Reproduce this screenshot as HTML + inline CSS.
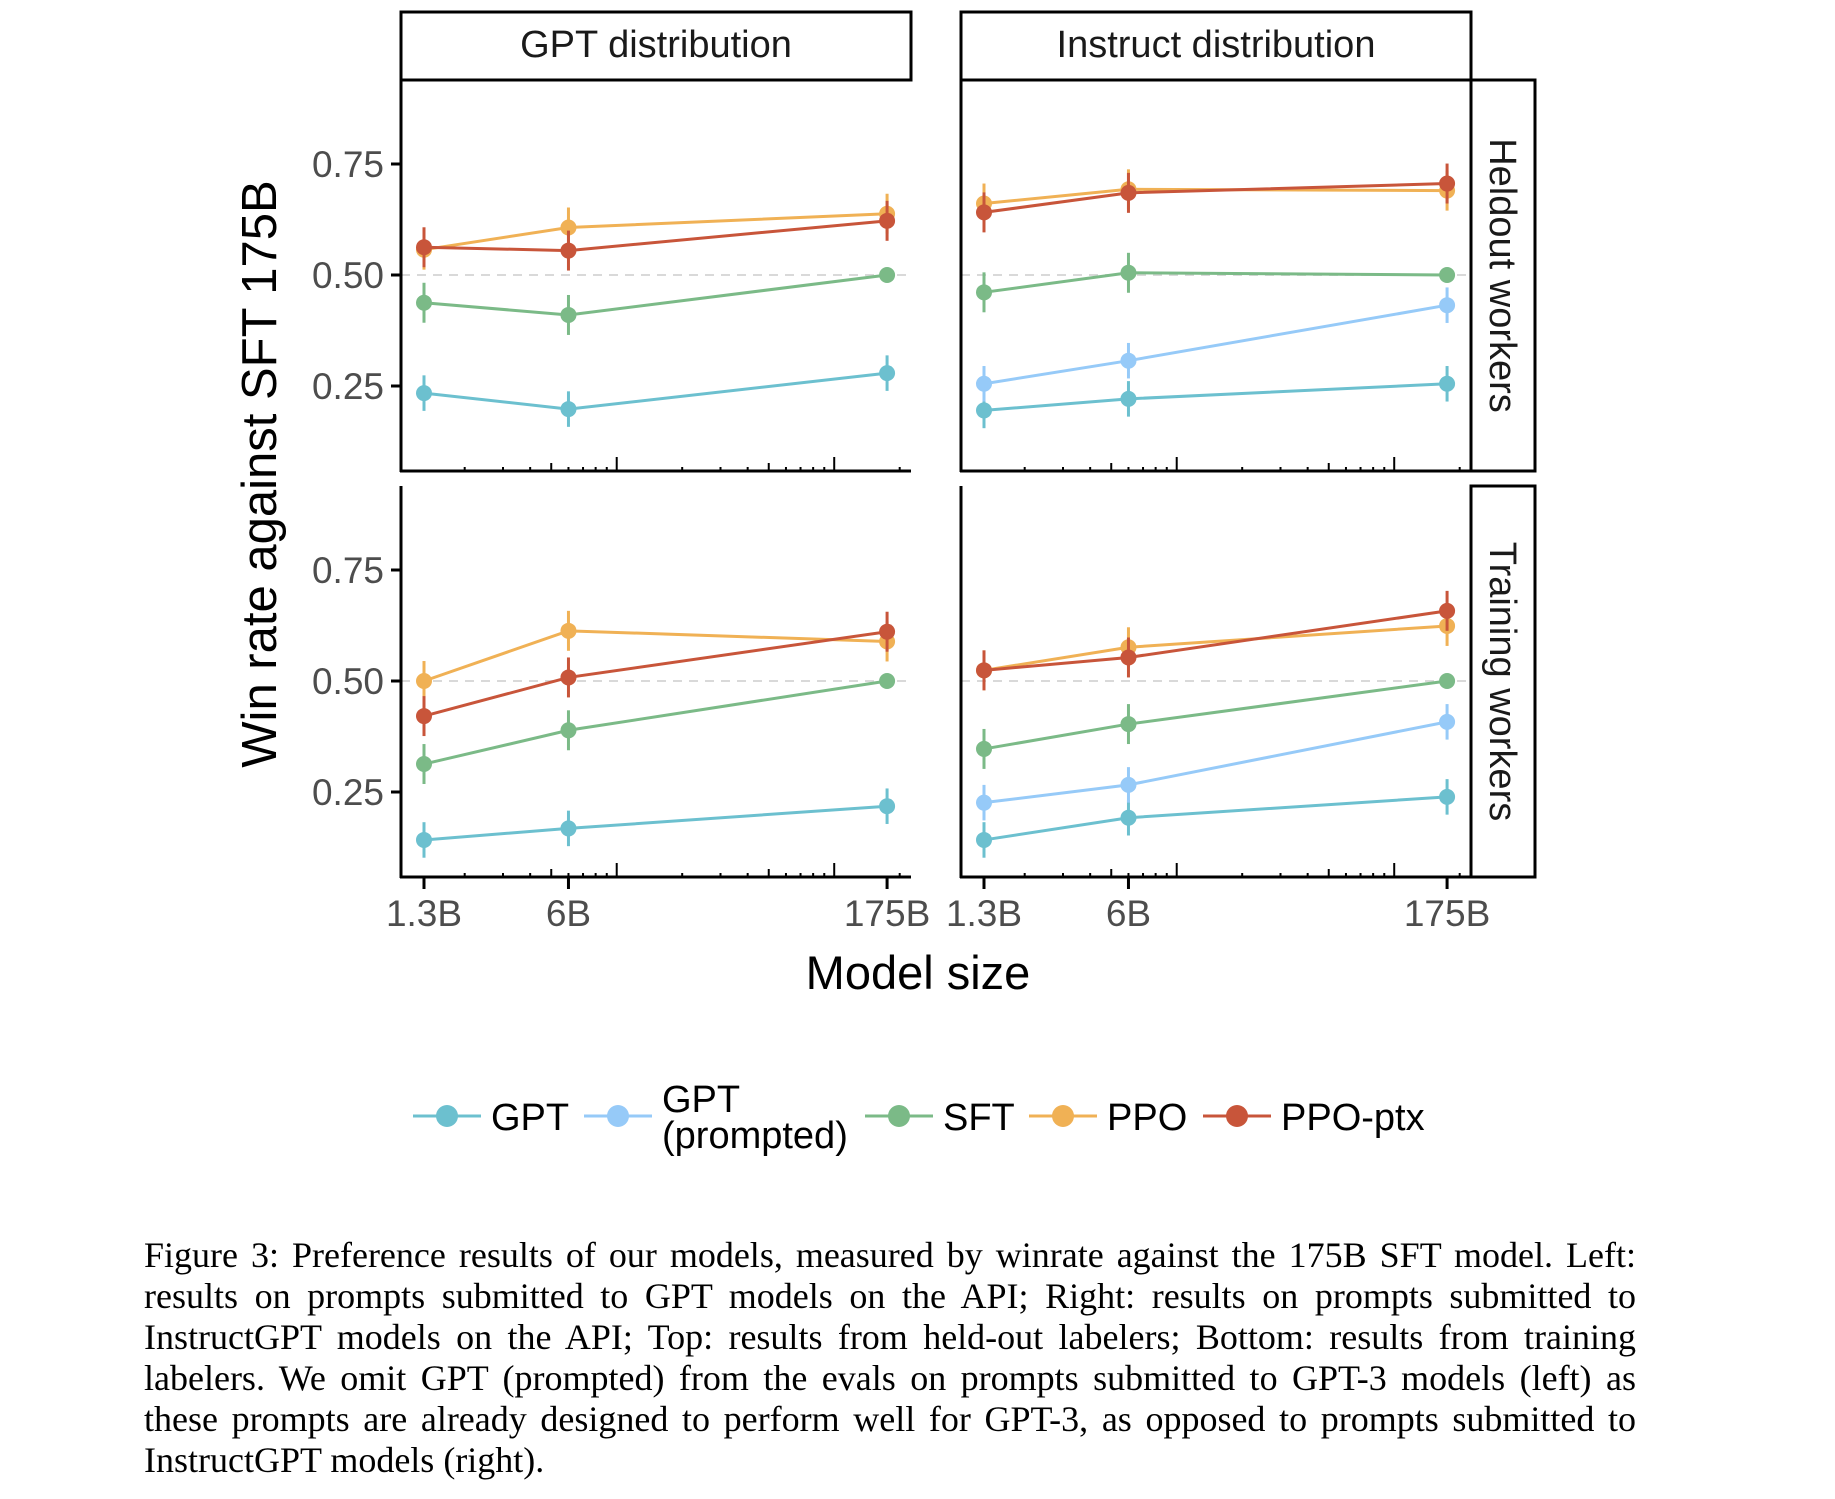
<!DOCTYPE html>
<html><head><meta charset="utf-8"><style>
body{margin:0;background:#fff;width:1835px;height:1499px;overflow:hidden;position:relative}
svg{position:absolute;left:0;top:0}
.cap{position:absolute;left:144px;width:1492px;font-family:"Liberation Serif",serif;font-size:36px;line-height:41px;color:#000}
.cap div{text-align:justify;text-align-last:justify;white-space:nowrap}
.cap div.last{text-align-last:left}
</style></head><body>
<svg id="chart" width="1835" height="1499" font-family="Liberation Sans, sans-serif"></svg>
<div class="cap" style="top:1235px">
<div>Figure 3: Preference results of our models, measured by winrate against the 175B SFT model. Left:</div>
<div>results on prompts submitted to GPT models on the API; Right: results on prompts submitted to</div>
<div>InstructGPT models on the API; Top: results from held-out labelers; Bottom: results from training</div>
<div>labelers. We omit GPT (prompted) from the evals on prompts submitted to GPT-3 models (left) as</div>
<div>these prompts are already designed to perform well for GPT-3, as opposed to prompts submitted to</div>
<div class="last">InstructGPT models (right).</div>
</div>
<script>
const sizes=[1.3,6,175];
const sizeLabels=["1.3B","6B","175B"];
const yTicks=[0.25,0.5,0.75];
const yTickLabels=["0.25","0.50","0.75"];
const seriesNames=["GPT","GPT (prompted)","SFT","PPO","PPO-ptx"];
const seriesColors=["#6cc0cf","#96caf8","#7bba87","#f0b155","#c8553a"];
// values per panel: [GPT, GPT prompted, SFT, PPO, PPO-ptx]; null = absent
const heldGpt=[[0.234,0.198,0.279],null,[0.4375,0.41,0.5],[0.557,0.607,0.638],[0.5625,0.555,0.622]];
const heldInstruct=[[0.195,0.221,0.255],[0.255,0.307,0.432],[0.461,0.505,0.5],[0.661,0.693,0.69],[0.641,0.685,0.706]];
const trainGpt=[[0.142,0.168,0.218],null,[0.313,0.389,0.5],[0.5,0.613,0.589],[0.421,0.508,0.611]];
const trainInstruct=[[0.142,0.192,0.239],[0.226,0.266,0.408],[0.347,0.403,0.5],[0.524,0.576,0.624],[0.524,0.553,0.658]];
const errHalf=[0.04,0.04,0.045,0.045,0.045];

const NS="http://www.w3.org/2000/svg";
const svg=document.getElementById('chart');
function mk(tag,attrs,parent){const e=document.createElementNS(NS,tag);for(const k in attrs)e.setAttribute(k,attrs[k]);(parent||svg).appendChild(e);return e;}

const panelsX=[401,961];const panelW=510;
const panelsY=[80,486];const panelH=391;
function xScale(px,v){return px+23+(Math.log10(v)-Math.log10(1.3))*217.5;}
function yScale(py,v){return py+195-(v-0.5)*444;}

const panels=[[0,0,heldGpt,"held-gpt"],[1,0,heldInstruct,"held-instruct"],[0,1,trainGpt,"train-gpt"],[1,1,trainInstruct,"train-instruct"]];
panels.forEach(([c,r,data,nm])=>{
  const px=panelsX[c],py=panelsY[r];
  const g=mk('g',{});
  
  
  const rl=mk('line',{x1:px,x2:px+panelW,y1:yScale(py,0.5),y2:yScale(py,0.5),stroke:'#d9d9d9','stroke-width':2,'stroke-dasharray':'9,7'},g);
  
  
  for(let d=0;d<3;d++){for(let m=1;m<10;m++){const v=m*Math.pow(10,d);const x=xScale(px,v);if(x<px+2||x>px+panelW-2)continue;
    const len=m===1?14:(m===5?8:4);
    mk('line',{x1:x,x2:x,y1:py+panelH,y2:py+panelH-len,stroke:'#000','stroke-width':2},g);}}
  data.forEach((vals,si)=>{
    if(!vals)return;
    const sg=mk('g',{},g);
    
    
    const pts=vals.map((v,i)=>xScale(px,sizes[i])+','+yScale(py,v)).join(' ');
    mk('polyline',{points:pts,fill:'none',stroke:seriesColors[si],'stroke-width':3},sg);
    vals.forEach((v,i)=>{
      const x=xScale(px,sizes[i]),y=yScale(py,v);
      if(!(si===2&&i===2)){mk('line',{x1:x,x2:x,y1:yScale(py,v+errHalf[si]),y2:yScale(py,v-errHalf[si]),stroke:seriesColors[si],'stroke-width':3},sg);}
      const ci=mk('circle',{cx:x,cy:y,r:8,fill:seriesColors[si]},sg);
      
      
    });
  });
  mk('line',{x1:px,x2:px,y1:py,y2:py+panelH+1,stroke:'#000','stroke-width':3},g);
  mk('line',{x1:px-1,x2:px+panelW,y1:py+panelH,y2:py+panelH,stroke:'#000','stroke-width':3},g);
  if(c===1){mk('line',{x1:px+panelW,x2:px+panelW,y1:py,y2:py+panelH+1,stroke:'#000','stroke-width':3},g);}
  if(c===0){yTicks.forEach((v,i)=>{const y=yScale(py,v);
    mk('line',{x1:px-10,x2:px,y1:y,y2:y,stroke:'#000','stroke-width':3},g);
    const t=mk('text',{x:px-17,y:y+13,'text-anchor':'end','font-size':37,fill:'#4d4d4d'},g);t.textContent=yTickLabels[i];
    
    });}
  if(r===1){sizes.forEach((s,i)=>{const x=xScale(px,s);
    mk('line',{x1:x,x2:x,y1:py+panelH,y2:py+panelH+12,stroke:'#000','stroke-width':3},g);
    const t=mk('text',{x:x,y:py+panelH+49,'text-anchor':'middle','font-size':37,fill:'#4d4d4d'},g);t.textContent=sizeLabels[i];
    
    });}
});
[["GPT distribution",0],["Instruct distribution",1]].forEach(([lab,c])=>{
  const px=panelsX[c];
  const r=mk('rect',{x:px,y:12,width:panelW,height:68,fill:'#fff',stroke:'#000','stroke-width':3});
  
  
  const t=mk('text',{x:px+panelW/2,y:57,'text-anchor':'middle','font-size':38,fill:'#1a1a1a'});t.textContent=lab;
  
  
});
[["Heldout workers",0],["Training workers",1]].forEach(([lab,r])=>{
  const py=panelsY[r];
  const rr=mk('rect',{x:1471,y:py,width:64,height:panelH,fill:'#fff',stroke:'#000','stroke-width':3});
  
  
  const cy=py+panelH/2;
  const t=mk('text',{x:1503,y:cy,'text-anchor':'middle','font-size':38,fill:'#1a1a1a',transform:`rotate(90 1503 ${cy}) translate(0 13)`});t.textContent=lab;
  
  
});
let t=mk('text',{x:0,y:0,'text-anchor':'middle','font-size':49,fill:'#000',transform:'translate(276 474) rotate(-90)'});t.textContent="Win rate against SFT 175B";


t=mk('text',{x:918,y:989,'text-anchor':'middle','font-size':47,fill:'#000'});t.textContent="Model size";


const legX=[413,584,865,1029,1203];
const lg=mk('g',{});


seriesNames.forEach((n,i)=>{
  const x=legX[i],y=1116;
  const eg=mk('g',{},lg);
  
  
  mk('line',{x1:x,x2:x+68,y1:y,y2:y,stroke:seriesColors[i],'stroke-width':3},eg);
  mk('circle',{cx:x+34,cy:y,r:11,fill:seriesColors[i]},eg);
  if(i===1){
    let a=mk('text',{x:x+78,y:y-4,'font-size':38,fill:'#000'},eg);a.textContent="GPT";
    a=mk('text',{x:x+78,y:y+32,'font-size':38,fill:'#000'},eg);a.textContent="(prompted)";
  } else {
    const a=mk('text',{x:x+78,y:y+14,'font-size':38,fill:'#000'},eg);a.textContent=n;
  }
});
</script>
</body></html>
